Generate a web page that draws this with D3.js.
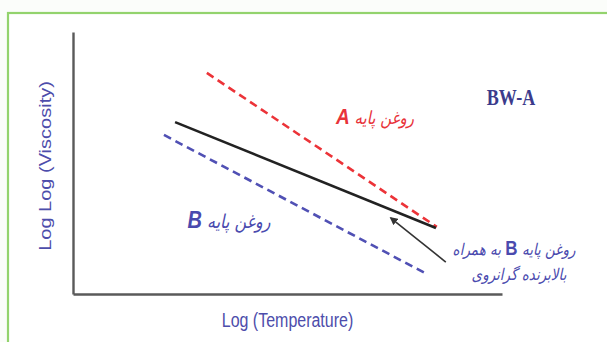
<!DOCTYPE html>
<html>
<head>
<meta charset="utf-8">
<script src="https://cdn.jsdelivr.net/npm/d3@7/dist/d3.min.js"></script>
<style>
  html, body { margin: 0; padding: 0; background: #fbfdfa; }
  svg { display: block; }
</style>
</head>
<body>
<svg id="chart" width="607" height="342"></svg>
<script>
// values, in axis units (0..100 on both axes)
const seriesNames = ['A', 'B', 'B+VII'];
const logTemp = {
  'A': [31.2, 84.8],
  'B': [21.2, 82.5],
  'B+VII': [23.8, 84.6],
};
const logLogVisc = {
  'A': [84.4, 25.6],
  'B': [60.7, 7.6],
  'B+VII': [65.6, 25.2],
};
const arrowX = [86.9, 74.1];
const arrowY = [12.2, 29.0];

const svg = d3.select('#chart');
const margin = { left: 73, right: 105, top: 32, bottom: 48 };
const W = 607, H = 342;

const x = d3.scaleLinear().domain([0, 100]).range([margin.left, W - margin.right]);
const y = d3.scaleLinear().domain([0, 100]).range([H - margin.bottom, margin.top]);

// frame
svg.append('rect').attr('x', 0).attr('y', 0).attr('width', W).attr('height', H).attr('fill', '#fbfdfa');
svg.append('rect')
  .attr('x', 8).attr('y', 13).attr('width', 640).attr('height', 360)
  .attr('fill', '#ffffff').attr('stroke', '#93d36d').attr('stroke-width', 2.2);

// axes (no ticks in the original)
const axisG = svg.append('g');
axisG.append('g')
  .attr('transform', `translate(0,${y(0)})`)
  .call(d3.axisBottom(x).tickValues([]).tickSize(0).tickSizeOuter(0))
  .call(g => g.select('.domain').attr('stroke', '#5a5a5a').attr('stroke-width', 2.4));
axisG.append('g')
  .attr('transform', `translate(${x(0)},0)`)
  .call(d3.axisLeft(y).tickValues([]).tickSize(0).tickSizeOuter(0))
  .call(g => g.select('.domain').attr('stroke', '#5a5a5a').attr('stroke-width', 2.4));

// lines
const style = {
  'A': { color: '#ec3338', dash: '8,5', width: 2.6 },
  'B': { color: '#5050b4', dash: '8,5', width: 2.6 },
  'B+VII': { color: '#222222', dash: null, width: 2.6 },
};
const line = d3.line().x(d => x(d[0])).y(d => y(d[1]));
for (const name of seriesNames) {
  const pts = d3.zip(logTemp[name], logLogVisc[name]);
  svg.append('path')
    .datum(pts)
    .attr('d', line)
    .attr('fill', 'none')
    .attr('stroke', style[name].color)
    .attr('stroke-width', style[name].width)
    .attr('stroke-dasharray', style[name].dash)
    .attr('stroke-linecap', 'butt');
}

// annotation arrow
svg.append('defs').append('marker')
  .attr('id', 'head').attr('viewBox', '0 0 10 10')
  .attr('refX', 8).attr('refY', 5)
  .attr('markerWidth', 5).attr('markerHeight', 5)
  .attr('orient', 'auto')
  .append('path').attr('d', 'M0,0 L10,5 L0,10 z').attr('fill', '#333');
svg.append('line')
  .attr('x1', x(arrowX[0])).attr('y1', y(arrowY[0]))
  .attr('x2', x(arrowX[1])).attr('y2', y(arrowY[1]))
  .attr('stroke', '#333').attr('stroke-width', 1.6)
  .attr('marker-end', 'url(#head)');

// axis titles (the picture is stretched vertically, so text gets a scale)
const axisColor = '#4d4dab';
svg.append('text')
  .attr('transform', `translate(${(x(0) + x(100)) / 2 + 0},327) scale(1,1.22)`)
  .attr('text-anchor', 'middle')
  .attr('font-family', 'Liberation Sans, Arial, sans-serif')
  .attr('font-size', 16)
  .attr('fill', axisColor)
  .text('Log (Temperature)');
svg.append('text')
  .attr('transform', `translate(51,166) rotate(-90) scale(1.25,1)`)
  .attr('text-anchor', 'middle')
  .attr('font-family', 'Liberation Sans, Arial, sans-serif')
  .attr('font-size', 16)
  .attr('fill', axisColor)
  .text('Log Log (Viscosity)');

// BW-A
svg.append('text')
  .attr('transform', 'translate(511,105) scale(0.95,1.2)')
  .attr('text-anchor', 'middle')
  .attr('font-family', 'Liberation Serif, Times New Roman, serif')
  .attr('font-weight', 'bold')
  .attr('font-size', 19)
  .attr('fill', '#3b3b8c')
  .text('BW-A');

// persian labels
function label(cx, cy, color, parts, size) {
  const t = svg.append('text')
    .attr('transform', `translate(${cx},${cy}) scale(1,1.2)`)
    .attr('text-anchor', 'middle')
    .attr('direction', 'rtl')
    .attr('fill', color)
    .attr('font-family', 'DejaVu Sans, sans-serif')
    .attr('font-size', size);
  for (const p of parts) {
    const s = t.append('tspan').text(p.t);
    if (p.latin) {
      s.attr('font-family', 'Liberation Sans, Arial, sans-serif')
        .attr('font-size', p.size || size + 4)
        .attr('font-style', p.italic ? 'italic' : null)
        .attr('font-weight', 'bold');
    } else {
      s.attr('font-style', 'italic');
    }
  }
  return t;
}
label(375, 124, '#e8333a', [{ t: 'روغن پایه ' }, { t: 'A', latin: true, italic: true, size: 19 }], 15);
label(229, 228, '#4a4aae', [{ t: 'روغن پایه ' }, { t: 'B', latin: true, italic: true, size: 20 }], 16);
label(514, 255, '#4a4aae', [{ t: 'روغن پایه ' }, { t: 'B', latin: true, size: 17 }, { t: ' به همراه' }], 13.5);
label(519, 280, '#4a4aae', [{ t: 'بالابرنده گرانروی' }], 13.5);
</script>
</body>
</html>
